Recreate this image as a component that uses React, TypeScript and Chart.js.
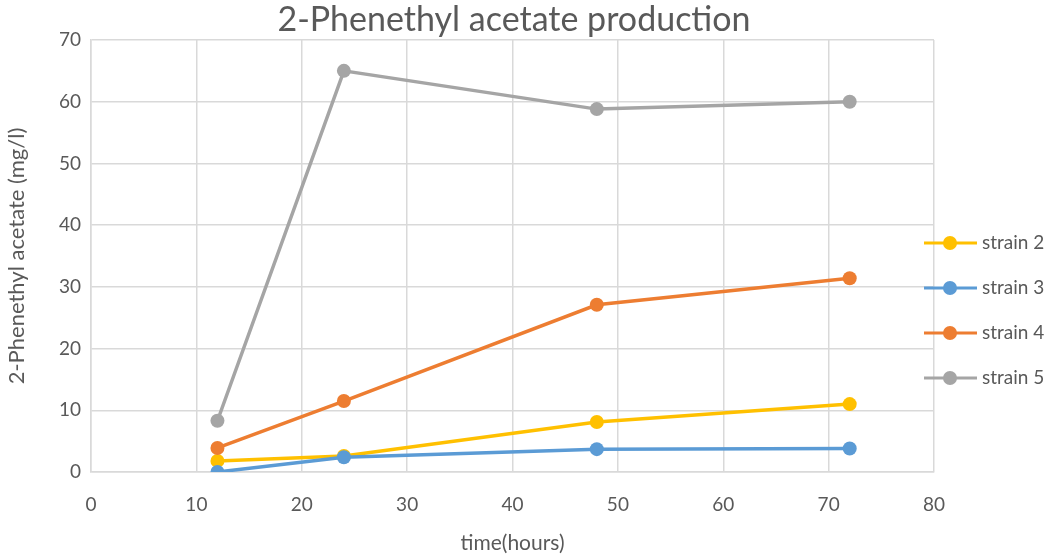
import React, { useEffect, useRef } from "react";
import { Chart, registerables } from "chart.js";

Chart.register(...registerables);

const hours = [12, 24, 48, 72];
const strain2 = [1.8, 2.6, 8.1, 11.0];
const strain3 = [0, 2.4, 3.7, 3.8];
const strain4 = [3.9, 11.5, 27.1, 31.4];
const strain5 = [8.3, 65.0, 58.8, 60.0];
const seriesNames = ["strain 2", "strain 3", "strain 4", "strain 5"];
const seriesColors = ["#FFC000", "#5B9BD5", "#ED7D31", "#A5A5A5"];
const titleText = "2-Phenethyl acetate production";
const xTitle = "time(hours)";
const yTitle = "2-Phenethyl acetate (mg/l)";

const FONT = "Lato, 'Noto Sans', sans-serif";
const TEXT = "#595959";

const overlayPlugin = {
  id: "overlay",
  afterDraw(chart: any) {
    const ctx = chart.ctx;
    ctx.save();
    // title
    ctx.fillStyle = TEXT;
    ctx.font = `34px ${FONT}`;
    ctx.textAlign = "center";
    ctx.textBaseline = "middle";
    ctx.fillText(titleText, 514, 20);
    // legend
    const startY = 243;
    const gap = 45;
    chart.data.datasets.forEach((ds: any, i: number) => {
      const y = startY + gap * i;
      ctx.strokeStyle = ds.borderColor;
      ctx.lineWidth = 3;
      ctx.beginPath();
      ctx.moveTo(924, y);
      ctx.lineTo(977, y);
      ctx.stroke();
      ctx.fillStyle = ds.borderColor;
      ctx.beginPath();
      ctx.arc(950, y, 7, 0, Math.PI * 2);
      ctx.fill();
      ctx.fillStyle = TEXT;
      ctx.font = `19px ${FONT}`;
      ctx.textAlign = "left";
      ctx.textBaseline = "middle";
      ctx.fillText(ds.label, 982, y);
    });
    ctx.restore();
  },
};

export default function App() {
  const ref = useRef<HTMLCanvasElement | null>(null);
  useEffect(() => {
    if (!ref.current) return;
    const data = [strain2, strain3, strain4, strain5];
    const chart = new Chart(ref.current, {
      type: "line",
      data: {
        datasets: data.map((vals, i) => ({
          label: seriesNames[i],
          data: hours.map((h, j) => ({ x: h, y: vals[j] })),
          borderColor: seriesColors[i],
          backgroundColor: seriesColors[i],
          borderWidth: 3.5,
          pointRadius: 7,
          pointHoverRadius: 7,
          pointBorderWidth: 0,
          tension: 0,
          order: 4 - i,
        })),
      },
      options: {
        animation: false,
        responsive: false,
        layout: { padding: { top: 40, right: 126, left: 0, bottom: 0 } },
        plugins: {
          legend: { display: false },
          title: { display: false },
          tooltip: { enabled: false },
        },
        scales: {
          x: {
            type: "linear",
            min: 0,
            max: 80,
            ticks: {
              stepSize: 10,
              color: TEXT,
              font: { size: 19, family: FONT },
              padding: 21,
            },
            grid: { color: "#D9D9D9", lineWidth: 1.5, drawTicks: false },
            border: { color: "#D9D9D9", width: 1.5 },
            title: {
              display: true,
              text: xTitle,
              color: TEXT,
              font: { size: 21, family: FONT },
            },
            afterFit(s: any) {
              s.height = 88;
            },
          },
          y: {
            type: "linear",
            min: 0,
            max: 70,
            ticks: {
              stepSize: 10,
              color: TEXT,
              font: { size: 19, family: FONT },
              padding: 10,
            },
            grid: { color: "#D9D9D9", lineWidth: 1.5, drawTicks: false },
            border: { color: "#D9D9D9", width: 1.5 },
            title: {
              display: true,
              text: yTitle,
              color: TEXT,
              font: { size: 22, family: FONT },
            },
            afterFit(s: any) {
              s.width = 91;
            },
          },
        },
      },
      plugins: [overlayPlugin],
    } as any);
    return () => chart.destroy();
  }, []);
  return (
    <div style={{ position: "fixed", left: 0, top: 0, width: 1060, height: 560, background: "#fff" }}>
      <canvas ref={ref} width={1060} height={560} style={{ width: 1060, height: 560 }} />
    </div>
  );
}
